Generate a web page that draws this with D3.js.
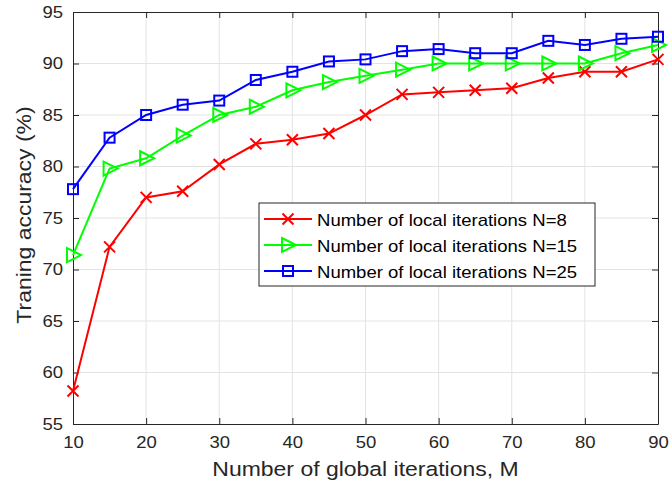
<!DOCTYPE html>
<html>
<head>
<meta charset="utf-8">
<script src="https://cdn.jsdelivr.net/npm/d3@7"></script>
<style>
  body { margin: 0; background: #fff; }
  text { font-family: "Liberation Sans", Arial, sans-serif; }
</style>
</head>
<body>
<div class="vis-chart"></div>
<script>
// global iterations M
const iters = [10, 15, 20, 25, 30, 35, 40, 45, 50, 55, 60, 65, 70, 75, 80, 85, 90];
const accN8 = [58.2, 72.2, 77.0, 77.6, 80.2, 82.2, 82.6, 83.2, 85.0, 87.0, 87.2, 87.4, 87.6, 88.6, 89.2, 89.2, 90.4];
const accN15 = [71.4, 79.8, 80.8, 83.0, 85.0, 85.8, 87.4, 88.2, 88.8, 89.4, 90.0, 90.0, 90.0, 90.0, 90.0, 91.0, 91.8];
const accN25 = [77.8, 82.8, 85.0, 86.0, 86.4, 88.4, 89.2, 90.2, 90.4, 91.2, 91.4, 91.0, 91.0, 92.2, 91.8, 92.4, 92.6];
const xTicks = [10, 20, 30, 40, 50, 60, 70, 80, 90];
const yTicks = [55, 60, 65, 70, 75, 80, 85, 90, 95];
const seriesNames = ["Number of local iterations N=8", "Number of local iterations N=15", "Number of local iterations N=25"];

const width = 670, height = 492;
const margin = { top: 12, right: 12, bottom: 68, left: 73 };
const w = width - margin.left - margin.right;
const h = height - margin.top - margin.bottom;
const widen = 1.12; // the original font runs a bit wider than Liberation Sans

const series = [
  { name: seriesNames[0], values: accN8, color: "#ff0000", marker: "x" },
  { name: seriesNames[1], values: accN15, color: "#00ff00", marker: "tri" },
  { name: seriesNames[2], values: accN25, color: "#0000ff", marker: "sq" }
];

const svg = d3.select(".vis-chart").append("svg")
  .attr("width", width).attr("height", height);
const g = svg.append("g")
  .attr("transform", "translate(" + margin.left + "," + margin.top + ")");

const x = d3.scaleLinear().domain([10, 90]).range([0, w]);
const y = d3.scaleLinear().domain([55, 95]).range([h, 0]);

// grid
g.append("g").selectAll("line").data(xTicks.slice(1, -1)).join("line")
  .attr("x1", d => x(d)).attr("x2", d => x(d)).attr("y1", 0).attr("y2", h)
  .attr("stroke", "#e3e3e3").attr("stroke-width", 1);
g.append("g").selectAll("line").data(yTicks.slice(1, -1)).join("line")
  .attr("y1", d => y(d)).attr("y2", d => y(d)).attr("x1", 0).attr("x2", w)
  .attr("stroke", "#e3e3e3").attr("stroke-width", 1);

// axes (ticks inward, MATLAB style box)
const axStyle = sel => {
  sel.select(".domain").attr("stroke", "#262626");
  sel.selectAll(".tick line").attr("stroke", "#262626");
  sel.selectAll(".tick text").attr("fill", "#262626").attr("font-size", 16.5)
    .style("font-family", "'Liberation Sans', Arial, sans-serif");
};
g.append("g").attr("transform", "translate(0," + h + ")")
  .call(d3.axisBottom(x).tickValues(xTicks).tickSizeInner(-6).tickSizeOuter(0).tickPadding(12))
  .call(axStyle);
g.append("g")
  .call(d3.axisLeft(y).tickValues(yTicks).tickSizeInner(-6).tickSizeOuter(0).tickPadding(10))
  .call(axStyle);
g.append("g")
  .call(d3.axisTop(x).tickValues(xTicks).tickSizeInner(-6).tickSizeOuter(0).tickFormat(""))
  .call(axStyle);
g.append("g").attr("transform", "translate(" + w + ",0)")
  .call(d3.axisRight(y).tickValues(yTicks).tickSizeInner(-6).tickSizeOuter(0).tickFormat(""))
  .call(axStyle);

// markers
function drawMarker(sel, type, color) {
  if (type === "x") {
    sel.append("path").attr("d", "M-5.5,-5.5L5.5,5.5M-5.5,5.5L5.5,-5.5")
      .attr("stroke", color).attr("stroke-width", 2).attr("fill", "none");
  } else if (type === "tri") {
    sel.append("path").attr("d", "M-6,-7L8,0L-6,7Z")
      .attr("stroke", color).attr("stroke-width", 2).attr("fill", "none");
  } else {
    sel.append("rect").attr("x", -5).attr("y", -5).attr("width", 10).attr("height", 10)
      .attr("stroke", color).attr("stroke-width", 2).attr("fill", "none");
  }
}

const line = d3.line().x((d, i) => x(iters[i])).y(d => y(d));
series.forEach(s => {
  g.append("path").datum(s.values)
    .attr("fill", "none").attr("stroke", s.color).attr("stroke-width", 2)
    .attr("d", line);
  g.append("g").selectAll("g").data(s.values).join("g")
    .attr("transform", (d, i) => "translate(" + x(iters[i]) + "," + y(d) + ")")
    .each(function () { drawMarker(d3.select(this), s.marker, s.color); });
});

// legend
const lg = svg.append("g").attr("transform", "translate(259,203)");
lg.append("rect").attr("width", 336).attr("height", 83)
  .attr("fill", "#fff").attr("stroke", "#262626").attr("stroke-width", 1);
series.forEach((s, i) => {
  const ly = 16 + i * 26;
  const row = lg.append("g").attr("transform", "translate(0," + ly + ")");
  row.append("line").attr("x1", 5).attr("x2", 53).attr("y1", 0).attr("y2", 0)
    .attr("stroke", s.color).attr("stroke-width", 2);
  drawMarker(row.append("g").attr("transform", "translate(29,0)"), s.marker, s.color);
  row.append("text").attr("class", "leg").attr("x", 58).attr("y", 6.5)
    .attr("font-size", 17).attr("fill", "#000")
    .text(s.name);
});

// axis titles
svg.append("text").attr("x", margin.left + w / 2).attr("y", 476)
  .attr("text-anchor", "middle").attr("font-size", 20.5).attr("fill", "#262626")
  .text("Number of global iterations, M");
svg.append("text")
  .attr("transform", "translate(31,215) rotate(-90)")
  .attr("text-anchor", "middle").attr("font-size", 20.5).attr("fill", "#262626")
  .text("Traning accuracy (%)");

// widen every label a little
svg.selectAll("text").each(function () {
  const len = this.getComputedTextLength();
  const f = this.classList.contains("leg") ? 1.09 : widen;
  if (len > 0) d3.select(this).attr("textLength", len * f).attr("lengthAdjust", "spacingAndGlyphs");
});
</script>
</body>
</html>
